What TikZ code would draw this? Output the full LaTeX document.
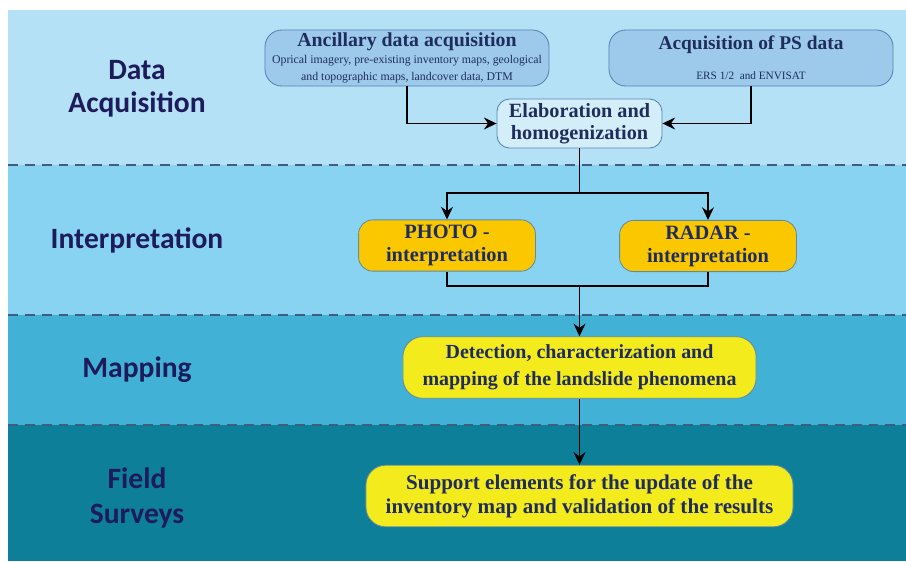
\documentclass[tikz,border=0pt]{standalone}
\usepackage{fontspec}
\setmainfont{Liberation Serif}
\newfontfamily\sidefont{Carlito}
\usetikzlibrary{arrows.meta}
\definecolor{bandA}{HTML}{B4E1F6}
\definecolor{bandB}{HTML}{88D3F1}
\definecolor{bandC}{HTML}{41B1D5}
\definecolor{bandD}{HTML}{0D7F99}
\definecolor{sepline}{HTML}{3E5C84}
\definecolor{sidetext}{HTML}{1E1B5C}
\definecolor{boxtext}{HTML}{1F2D5E}
\definecolor{dataA}{HTML}{9DC9EB}
\definecolor{dataedge}{HTML}{5483B3}
\definecolor{elabfill}{HTML}{D4EEF9}
\definecolor{gold}{HTML}{FBC800}
\definecolor{lemon}{HTML}{F4EB1C}
\definecolor{yellowedge}{HTML}{5F8BA3}

\begin{document}
\begin{tikzpicture}[x=0.025cm, y=-0.025cm,
    every node/.style={inner sep=0pt, text=boxtext},
    side/.style={font=\sidefont\bfseries\fontsize{21}{23.6}\selectfont, text=sidetext, align=center},
    databox/.style={draw=dataedge, fill=dataA, line width=0.6pt, rounded corners=12pt,
      minimum width=7.1cm, minimum height=1.4cm, align=center},
    elabbox/.style={draw=dataedge, fill=elabfill, line width=0.6pt, rounded corners=9pt,
      minimum width=4.125cm, minimum height=1.225cm, align=center,
      font=\bfseries\fontsize{14.4}{15.8}\selectfont},
    interbox/.style={draw=yellowedge, fill=gold, line width=0.6pt, rounded corners=10pt,
      minimum width=4.42cm, minimum height=1.28cm, align=center,
      font=\bfseries\fontsize{14.5}{16.3}\selectfont},
    resultbox/.style={draw=yellowedge, fill=lemon, line width=0.6pt, rounded corners=14pt,
      minimum height=1.54cm, align=center},
    link/.style={line width=1.1pt},
    arr/.style={line width=1.1pt, -{Stealth[length=9pt, width=8.5pt, inset=3pt]}}]

\useasboundingbox (0,0) rectangle (906,561);

% bands
\foreach \ya/\yb/\col in {10/165/bandA, 165/315/bandB, 315/425/bandC, 425/561/bandD}
  \fill[\col] (8,\ya) rectangle (906,\yb);
\foreach \y in {165,315,425}
  \draw[sepline, line width=1pt, dash pattern=on 7pt off 5pt] (8,\y) -- (906,\y);

% phase names
\node[side] (acq) at (137,89) {Data\\Acquisition};
\node[side] (int) at (137,240) {Interpretation};
\node[side] (map) at (137,370) {Mapping};
\node[side, font=\sidefont\bfseries\fontsize{21}{24.6}\selectfont] (fld) at (137,498) {Field\\Surveys};

% boxes
\node[databox] (anc) at (407,58)
  {\bfseries\fontsize{14.1}{15}\selectfont Ancillary data acquisition\\[0pt]
   \fontsize{8.4}{10.6}\selectfont Oprical imagery, pre-existing inventory maps, geological\\
   \fontsize{8.4}{10.6}\selectfont and topographic maps, landcover data, DTM};
\node[databox] (ps) at (751,58)
  {\bfseries\fontsize{13.8}{15}\selectfont Acquisition of PS data\\[9pt]
   \fontsize{8}{10}\selectfont ERS 1/2~ and ENVISAT};
\node[elabbox] (elab) at (579.5,123.5) {Elaboration and\\homogenization};
\node[interbox] (photo) at (447,245.5) {PHOTO -\\interpretation};
\node[interbox] (radar) at (708,246) {RADAR -\\interpretation};
\node[resultbox, minimum width=8.825cm, font=\bfseries\fontsize{14.2}{19}\selectfont] (detect) at (579.5,367.5)
  {Detection, characterization and\\mapping of the landslide phenomena};
\node[resultbox, minimum width=10.675cm, font=\bfseries\fontsize{15}{17}\selectfont] (support) at (579.5,496)
  {Support elements for the update of the\\inventory map and validation of the results};

% connectors
\coordinate (split) at (579.5,193);
\coordinate (merge) at (579.5,286);
\draw[arr] (anc) |- (elab);
\draw[arr] (ps) |- (elab);
\draw[link] (elab) -- (split);
\draw[arr] (split) -| (photo);
\draw[arr] (split) -| (radar);
\draw[link] (photo) |- (merge) -| (radar);
\draw[arr] (merge) -- (detect);
\draw[arr] (detect) -- (support);
\end{tikzpicture}
\end{document}
